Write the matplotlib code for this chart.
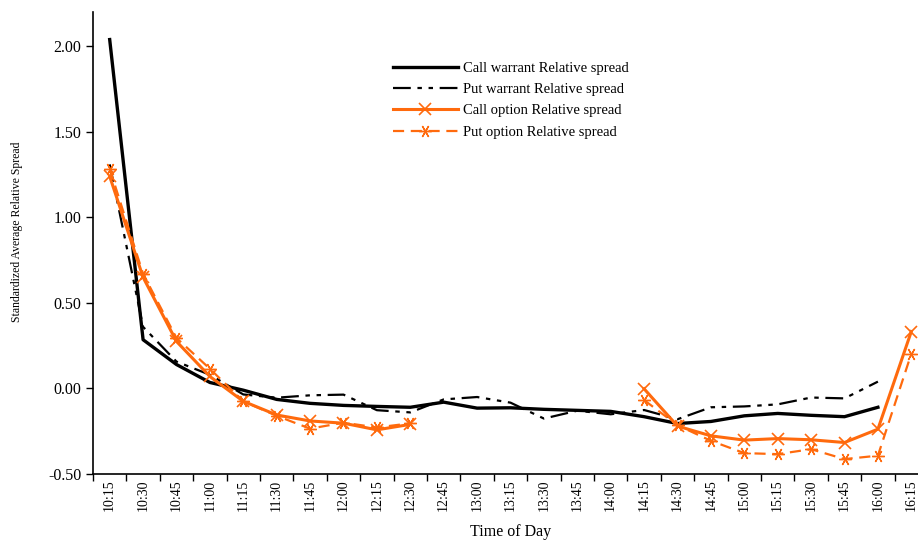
import matplotlib
matplotlib.use("Agg")
import matplotlib.pyplot as plt
import numpy as np
from matplotlib.ticker import FuncFormatter

plt.rcParams['font.family'] = ['Liberation Serif', 'DejaVu Serif']

times = ['10:15', '10:30', '10:45', '11:00', '11:15', '11:30', '11:45', '12:00',
         '12:15', '12:30', '12:45', '13:00', '13:15', '13:30', '13:45', '14:00',
         '14:15', '14:30', '14:45', '15:00', '15:15', '15:30', '15:45', '16:00',
         '16:15']

nan = np.nan
call_warrant = [2.04, 0.285, 0.14, 0.035, -0.01, -0.064, -0.087, -0.099,
                -0.105, -0.11, -0.08, -0.115, -0.113, -0.122, -0.128, -0.134,
                -0.165, -0.205, -0.193, -0.16, -0.146, -0.157, -0.165, -0.11, nan]
put_warrant = [1.31, 0.36, 0.157, 0.08, -0.035, -0.054, -0.04, -0.036,
               -0.127, -0.14, -0.064, -0.05, -0.083, -0.176, -0.13, -0.151,
               -0.126, -0.18, -0.11, -0.105, -0.093, -0.053, -0.058, 0.04, nan]
call_option = [1.24, 0.65, 0.275, 0.07, -0.075, -0.155, -0.19, -0.203,
               -0.242, -0.21, nan, nan, nan, nan, nan, nan,
               -0.002, -0.22, -0.277, -0.302, -0.293, -0.30, -0.316, -0.238, 0.333]
put_option = [1.285, 0.67, 0.295, 0.115, -0.075, -0.16, -0.235, -0.2,
              -0.228, -0.204, nan, nan, nan, nan, nan, nan,
              -0.068, -0.215, -0.306, -0.378, -0.384, -0.355, -0.413, -0.393, 0.203]

orange = '#ff6a0d'
x = np.arange(len(times))

fig = plt.figure(figsize=(9.18, 5.42), dpi=100)
ax = fig.add_axes([0.1013, 0.1255, 0.9096, 0.852])

ax.plot(x, call_warrant, color='black', lw=2.4, label='Call warrant Relative spread')
ax.plot(x, put_warrant, color='black', lw=1.6, dashes=(8, 3, 2, 3, 2, 3),
        label='Put warrant Relative spread')
ax.plot(x, call_option, color=orange, lw=2.2, marker='x', ms=8, mew=1.2,
        label='Call option Relative spread')
ax.plot(x, put_option, color=orange, lw=1.6, dashes=(5, 3), marker=(6, 2, 90),
        ms=9, mew=1.0, label='Put option Relative spread')

ax.set_xlim(-0.5, len(times) - 0.5)
ax.set_ylim(-0.5, 2.2)
ax.set_yticks(np.arange(-0.5, 2.01, 0.5))
ax.yaxis.set_major_formatter(FuncFormatter(lambda v, p: ('%.2f' % v).replace('\u2212', '-')))
ax.set_xticks(x)
ax.set_xticklabels(times, rotation=90, fontsize=10)
ax.set_xticks(np.arange(-0.5, len(times), 1.0), minor=True)
ax.tick_params(axis='x', which='major', length=0, pad=4)
ax.tick_params(axis='x', which='minor', length=5, direction='out', width=1)
ax.tick_params(axis='y', labelsize=11.5, length=5, direction='out', width=1)

for s in ['top', 'right']:
    ax.spines[s].set_visible(False)
for s in ['left', 'bottom']:
    ax.spines[s].set_linewidth(1.2)

ax.set_ylabel('Standardized Average Relative Spread', fontsize=8.5)
ax.yaxis.set_label_coords(-0.084, 0.524)
ax.set_xlabel('Time of Day', fontsize=11.5, labelpad=9)

ax.legend(loc='upper left', bbox_to_anchor=(0.343, 0.921), frameon=False,
          fontsize=10.5, handlelength=4.5, handletextpad=0.35, labelspacing=0.55)

fig.savefig('out.png', dpi=100)
